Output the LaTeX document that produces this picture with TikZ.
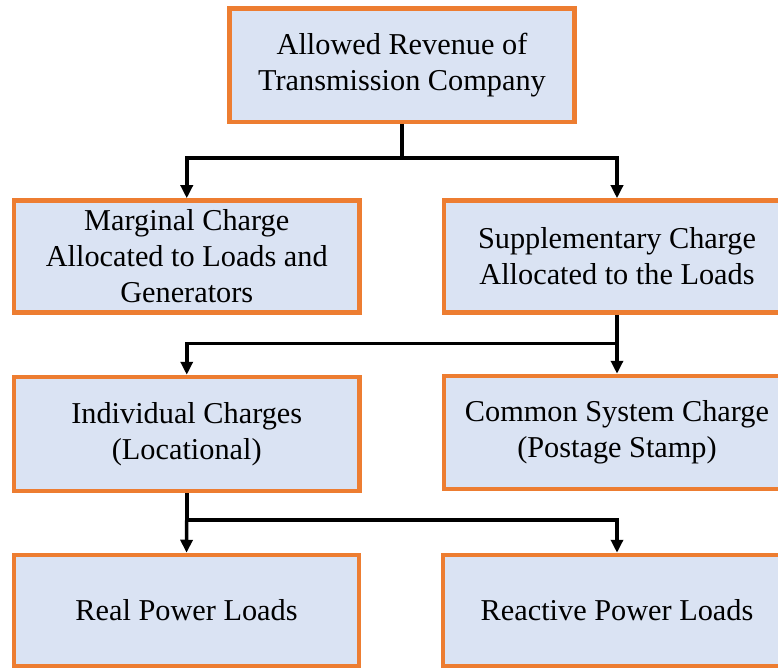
\documentclass[tikz,border=0pt]{standalone}
\usepackage{fontspec}
\setmainfont{Liberation Serif}
\usetikzlibrary{arrows.meta}
\definecolor{boxfill}{HTML}{DAE3F3}
\definecolor{boxedge}{HTML}{ED7D31}
\begin{document}
\begin{tikzpicture}[x=1pt,y=-1pt,
  box/.style={draw=boxedge,fill=boxfill,line width=4.5pt,inner sep=0pt,align=center,
    font=\fontsize{30.3}{36}\selectfont},
  conn/.style={line width=3.5pt,draw=black},
  arr/.style={conn,-{Triangle[width=12pt,length=13pt]}}]
\useasboundingbox (0,0) rectangle (778,668);
\clip (0,0) rectangle (778,668);
\node[box,minimum width=345pt,minimum height=113.5pt] (top) at (402,65.25) {Allowed Revenue of\\Transmission Company};
\node[box,minimum width=345.5pt,minimum height=112pt] (marg) at (186.75,256.5) {Marginal Charge\\Allocated to Loads and\\Generators};
\node[box,minimum width=346pt,minimum height=112pt] (supp) at (617,256.5) {Supplementary Charge\\Allocated to the Loads};
\node[box,minimum width=345.5pt,minimum height=114pt] (ind) at (186.75,434) {Individual Charges\\(Locational)};
\node[box,minimum width=346pt,minimum height=113pt] (comm) at (617,432.5) {Common System Charge\\(Postage Stamp)};
\node[box,minimum width=345pt,minimum height=111pt] (real) at (186.5,610.5) {Real Power Loads};
\node[box,minimum width=348pt,minimum height=111pt] (react) at (617,610.5) {Reactive Power Loads};
\coordinate (j1) at (402,158);
\coordinate (j2) at (617,343.5);
\coordinate (j3) at (186.75,520);
\draw[conn] (top.south) -- (j1);
\draw[arr] (j1) -| (marg.north);
\draw[arr] (j1) -| (supp.north);
\draw[conn] (supp.south) -- (j2);
\draw[arr] (j2) -- (comm.north);
\draw[arr] (j2) -| (ind.north);
\draw[conn] (ind.south) -- (j3);
\draw[arr] (j3) -- (real.north);
\draw[arr] (j3) -| (react.north);
\end{tikzpicture}
\end{document}
